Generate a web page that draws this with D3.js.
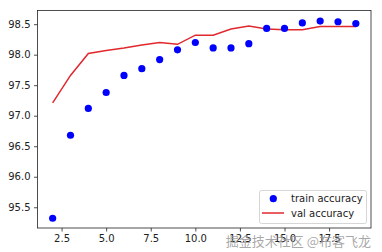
<!DOCTYPE html>
<html><head><meta charset="utf-8">
<script src="https://cdn.jsdelivr.net/npm/d3@7"></script>
<style>body{margin:0;background:#fff}svg{display:block}</style>
</head><body>
<script>
const epochs = [2,3,4,5,6,7,8,9,10,11,12,13,14,15,16,17,18,19];
const trainAcc = [95.32,96.68,97.12,97.38,97.66,97.77,97.92,98.08,98.20,98.11,98.11,98.18,98.43,98.43,98.52,98.55,98.54,98.51];
const valAcc = [97.21,97.66,98.02,98.07,98.11,98.16,98.20,98.17,98.32,98.32,98.42,98.47,98.42,98.41,98.41,98.46,98.46,98.46];
const xTicks = [2.5,5.0,7.5,10.0,12.5,15.0,17.5];
const yTicks = [95.5,96.0,96.5,97.0,97.5,98.0,98.5];
const seriesNames = ["train accuracy","val accuracy"];

const W=382,H=252;
const svg=d3.select("body").append("svg").attr("width",W).attr("height",H);
const L=37.5,R=371,T=10.5,B=228;
const x=d3.scaleLinear().domain([1.15,19.85]).range([L,R]);
const y=d3.scaleLinear().domain([95.16,98.724]).range([B,T]);
const font="DejaVu Sans, sans-serif";

const xa=svg.append("g").attr("transform",`translate(0,${B})`)
  .call(d3.axisBottom(x).tickValues(xTicks).tickFormat(d3.format(".1f")).tickSize(3.5).tickPadding(3.5));
const ya=svg.append("g").attr("transform",`translate(${L},0)`)
  .call(d3.axisLeft(y).tickValues(yTicks).tickFormat(d3.format(".1f")).tickSize(3.5).tickPadding(3.5));
[xa,ya].forEach(a=>{a.select(".domain").remove();a.selectAll("line").attr("stroke","#222").attr("stroke-width",0.8);
  a.selectAll("text").attr("font-family",font).attr("font-size",10).attr("fill","#222");});

svg.append("path").datum(valAcc.map((v,i)=>[epochs[i],v]))
  .attr("d",d3.line().x(d=>x(d[0])).y(d=>y(d[1])))
  .attr("fill","none").attr("stroke","#e0282e").attr("stroke-width",1.5);
svg.selectAll("circle.tr").data(trainAcc).enter().append("circle").attr("class","tr")
  .attr("cx",(d,i)=>x(epochs[i])).attr("cy",d=>y(d)).attr("r",3.6).attr("fill","#0000ff");

svg.append("rect").attr("x",L).attr("y",T).attr("width",R-L).attr("height",B-T)
  .attr("fill","none").attr("stroke","#222").attr("stroke-width",0.8);

// legend
const lg=svg.append("g");
lg.append("rect").attr("x",259.5).attr("y",190.5).attr("width",107).attr("height",33)
  .attr("rx",2).attr("fill","#fff").attr("fill-opacity",0.8).attr("stroke","#ccc").attr("stroke-width",0.8);
lg.append("circle").attr("cx",273.3).attr("cy",198.7).attr("r",3.6).attr("fill","#0000ff");
lg.append("line").attr("x1",262).attr("x2",284).attr("y1",213).attr("y2",213).attr("stroke","#e0282e").attr("stroke-width",1.5);
lg.append("text").attr("x",291).attr("y",202.3).text(seriesNames[0]).attr("font-family",font).attr("font-size",10).attr("fill","#222");
lg.append("text").attr("x",291).attr("y",216.6).text(seriesNames[1]).attr("font-family",font).attr("font-size",10).attr("fill","#222");

// watermark
svg.append("text").attr("x",371).attr("y",246).attr("text-anchor","end")
  .attr("font-family","Noto Sans CJK SC, sans-serif").attr("font-size",13)
  .attr("fill","#999").attr("fill-opacity",0.85).text("掘金技术社区 @布客飞龙");
</script>
</body></html>
